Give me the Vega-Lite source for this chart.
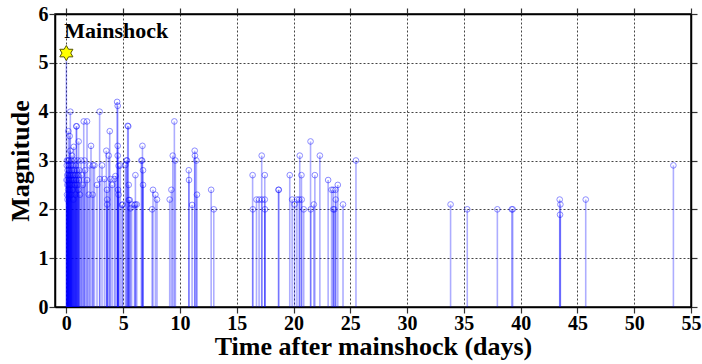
{
  "$schema": "https://vega.github.io/schema/vega-lite/v6.json",
  "width": 636,
  "height": 293,
  "autosize": "none",
  "padding": {"left": 55, "top": 14, "right": 11, "bottom": 57},
  "background": "white",
  "config": {
    "view": {"stroke": "black", "strokeWidth": 1.5},
    "axis": {
      "domainColor": "black", "domainWidth": 1.5,
      "tickColor": "#333", "tickSize": 6, "tickWidth": 1.2,
      "gridColor": "#444", "gridDash": [2, 2], "gridWidth": 1, "gridOpacity": 1,
      "labelFont": "Liberation Serif", "labelFontWeight": "bold", "labelFontSize": 20, "labelColor": "black",
      "titleFont": "Liberation Serif", "titleFontWeight": "bold", "titleFontSize": 26, "titleColor": "black",
      "labelFlush": false
    }
  },
  "datasets": {
    "events": [
      {"t":0.02,"m":2.6},{"t":0.04,"m":2.9},{"t":0.05,"m":3.0},{"t":0.06,"m":2.3},{"t":0.08,"m":2.7},{"t":0.09,"m":2.5},{"t":0.10,"m":2.2},{"t":0.11,"m":2.8},{"t":0.12,"m":2.6},{"t":0.14,"m":3.0},{"t":0.15,"m":2.4},{"t":0.16,"m":2.7},{"t":0.18,"m":3.6},{"t":0.19,"m":2.5},{"t":0.2,"m":2.9},{"t":0.21,"m":2.3},{"t":0.23,"m":3.0},{"t":0.24,"m":2.6},{"t":0.26,"m":2.8},{"t":0.28,"m":2.4},{"t":0.29,"m":3.5},{"t":0.31,"m":2.7},{"t":0.33,"m":2.5},{"t":0.35,"m":4.0},{"t":0.35,"m":3.2},{"t":0.37,"m":2.6},{"t":0.39,"m":2.9},{"t":0.41,"m":2.3},{"t":0.43,"m":2.7},{"t":0.44,"m":3.0},{"t":0.46,"m":2.5},{"t":0.48,"m":2.8},{"t":0.5,"m":3.1},{"t":0.52,"m":2.6},{"t":0.55,"m":2.4},{"t":0.57,"m":2.9},{"t":0.6,"m":2.7},{"t":0.62,"m":2.2},{"t":0.65,"m":3.28},{"t":0.67,"m":2.6},{"t":0.7,"m":2.8},{"t":0.73,"m":3.0},{"t":0.75,"m":2.5},{"t":0.78,"m":2.7},{"t":0.8,"m":2.3},{"t":0.83,"m":2.9},{"t":0.86,"m":2.6},{"t":0.88,"m":3.7},{"t":0.9,"m":3.7},{"t":0.93,"m":2.8},{"t":0.96,"m":2.5},{"t":1.0,"m":3.0},{"t":1.02,"m":2.7},{"t":1.05,"m":2.4},{"t":1.08,"m":3.39},{"t":1.1,"m":2.6},{"t":1.15,"m":2.8},{"t":1.2,"m":2.3},
      {"t":1.3,"m":3.0},{"t":1.35,"m":2.7},{"t":1.45,"m":2.5},{"t":1.53,"m":3.8},{"t":1.6,"m":3.0},{"t":1.65,"m":2.8},{"t":1.82,"m":3.8},{"t":1.82,"m":2.6},{"t":1.97,"m":2.3},{"t":2.05,"m":2.9},{"t":2.17,"m":3.3},{"t":2.32,"m":2.3},{"t":2.35,"m":2.9},{"t":2.47,"m":2.9},{"t":2.7,"m":2.5},{"t":2.93,"m":4.0},{"t":2.94,"m":2.62},{"t":3.14,"m":2.9},{"t":3.35,"m":2.62},{"t":3.52,"m":3.2},{"t":3.58,"m":2.4},{"t":3.6,"m":2.2},{"t":3.6,"m":2.1},{"t":3.73,"m":3.1},{"t":3.82,"m":3.6},{"t":3.88,"m":2.62},{"t":4.03,"m":2.5},{"t":4.23,"m":2.62},{"t":4.32,"m":2.68},{"t":4.47,"m":4.2},{"t":4.52,"m":4.12},{"t":4.52,"m":3.3},{"t":4.52,"m":3.1},{"t":4.55,"m":2.4},{"t":4.6,"m":2.89},{"t":4.6,"m":2.3},{"t":4.75,"m":2.9},{"t":4.9,"m":2.09},{"t":4.96,"m":2.1},{"t":5.2,"m":2.91},{"t":5.29,"m":3.0},{"t":5.35,"m":3.0},{"t":5.4,"m":3.71},{"t":5.45,"m":3.7},{"t":5.49,"m":2.5},{"t":5.49,"m":2.19},{"t":5.58,"m":2.19},{"t":5.64,"m":2.02},{"t":5.75,"m":2.1},{"t":6.0,"m":2.09},{"t":6.08,"m":2.1},{"t":6.08,"m":2.7},{"t":6.2,"m":2.1},{"t":6.6,"m":3.0},{"t":6.67,"m":3.0},{"t":6.7,"m":3.3},{"t":6.75,"m":2.8},{"t":6.75,"m":2.5},
      {"t":7.55,"m":2.0},{"t":7.63,"m":2.4},{"t":7.84,"m":2.3},{"t":7.98,"m":2.2},{"t":9.1,"m":2.2},{"t":9.25,"m":2.4},{"t":9.37,"m":3.1},{"t":9.51,"m":3.8},{"t":9.6,"m":3.0},{"t":10.78,"m":2.8},{"t":10.8,"m":2.6},{"t":11.07,"m":2.09},{"t":11.3,"m":3.2},{"t":11.32,"m":3.1},{"t":11.45,"m":3.0},{"t":11.5,"m":2.3},{"t":12.75,"m":2.4},{"t":12.98,"m":2.0},
      {"t":16.4,"m":2.7},{"t":16.42,"m":2.0},{"t":16.74,"m":2.2},{"t":16.97,"m":2.2},{"t":17.2,"m":3.1},{"t":17.22,"m":2.2},{"t":17.47,"m":2.2},{"t":17.47,"m":2.7},{"t":17.49,"m":2.0},{"t":18.68,"m":2.4},{"t":18.7,"m":2.4},{"t":19.67,"m":2.7},{"t":19.88,"m":2.2},{"t":20.09,"m":2.1},{"t":20.3,"m":2.2},{"t":20.5,"m":2.2},{"t":20.55,"m":3.1},{"t":20.7,"m":2.7},{"t":20.72,"m":2.2},{"t":20.9,"m":2.0},{"t":21.5,"m":3.39},{"t":21.52,"m":2.0},{"t":21.79,"m":2.1},{"t":21.88,"m":2.7},{"t":22.32,"m":3.1},{"t":23.05,"m":2.6},{"t":23.35,"m":2.4},{"t":23.5,"m":2.4},{"t":23.5,"m":2.0},{"t":23.6,"m":2.0},{"t":23.7,"m":2.4},{"t":23.72,"m":2.2},{"t":23.9,"m":2.5},{"t":24.36,"m":2.1},{"t":25.5,"m":3.0},
      {"t":33.83,"m":2.1},{"t":35.3,"m":2.0},{"t":37.95,"m":2.0},{"t":39.22,"m":2.0},{"t":39.3,"m":2.0},{"t":43.44,"m":2.2},{"t":43.5,"m":2.1},{"t":43.47,"m":1.89},{"t":45.73,"m":2.2},{"t":53.45,"m":2.9}
    ],
    "mainshock": [{"t": 0, "m": 5.2, "label": "Mainshock", "ly": 5.65}]
  },
  "layer": [
    {
      "data": {"name": "events"},
      "mark": {"type": "rule", "color": "#0000ff", "opacity": 0.32, "strokeWidth": 1.6},
      "encoding": {
        "x": {"field": "t", "type": "quantitative", "scale": {"domain": [-1, 55], "nice": false},
              "axis": {"orient": "bottom", "values": [0,5,10,15,20,25,30,35,40,45,50,55], "grid": true, "title": "Time after mainshock (days)", "labelPadding": 0, "titlePadding": 0}},
        "y": {"field": "m", "type": "quantitative", "scale": {"domain": [0, 6], "nice": false},
              "axis": {"orient": "left", "values": [0,1,2,3,4,5,6], "grid": true, "title": "Magnitude", "labelPadding": 1, "titlePadding": 5}},
        "y2": {"datum": 0}
      }
    },
    {
      "data": {"name": "events"},
      "mark": {"type": "point", "shape": "circle", "filled": false, "color": "#0000ff", "opacity": 0.45, "strokeWidth": 1, "size": 32},
      "encoding": {
        "x": {"field": "t", "type": "quantitative",
              "axis": {"orient": "top", "values": [0,5,10,15,20,25,30,35,40,45,50,55], "grid": false, "labels": false, "title": null}},
        "y": {"field": "m", "type": "quantitative",
              "axis": {"orient": "right", "values": [0,1,2,3,4,5,6], "grid": false, "labels": false, "title": null}}
      }
    },
    {
      "data": {"name": "mainshock"},
      "mark": {"type": "rule", "color": "#0000ff", "opacity": 0.32, "strokeWidth": 1.6},
      "encoding": {
        "x": {"field": "t", "type": "quantitative", "axis": null},
        "y": {"field": "m", "type": "quantitative", "axis": null},
        "y2": {"datum": 0}
      }
    },
    {
      "data": {"name": "mainshock"},
      "mark": {"type": "point", "shape": "M0,-1L0.289,-0.5L0.866,-0.5L0.577,0L0.866,0.5L0.289,0.5L0,1L-0.289,0.5L-0.866,0.5L-0.577,0L-0.866,-0.5L-0.289,-0.5Z", "filled": true, "fill": "#ffff00", "stroke": "#555500", "strokeWidth": 1, "opacity": 1, "size": 230},
      "encoding": {
        "x": {"field": "t", "type": "quantitative", "axis": null},
        "y": {"field": "m", "type": "quantitative", "axis": null}
      }
    },
    {
      "data": {"name": "mainshock"},
      "mark": {"type": "text", "align": "left", "baseline": "middle", "dx": -2, "font": "Liberation Serif", "fontWeight": "bold", "fontSize": 22, "color": "black"},
      "encoding": {
        "x": {"field": "t", "type": "quantitative", "axis": null},
        "y": {"field": "ly", "type": "quantitative", "axis": null},
        "text": {"field": "label"}
      }
    }
  ],
  "resolve": {"axis": {"x": "independent", "y": "independent"}}
}
